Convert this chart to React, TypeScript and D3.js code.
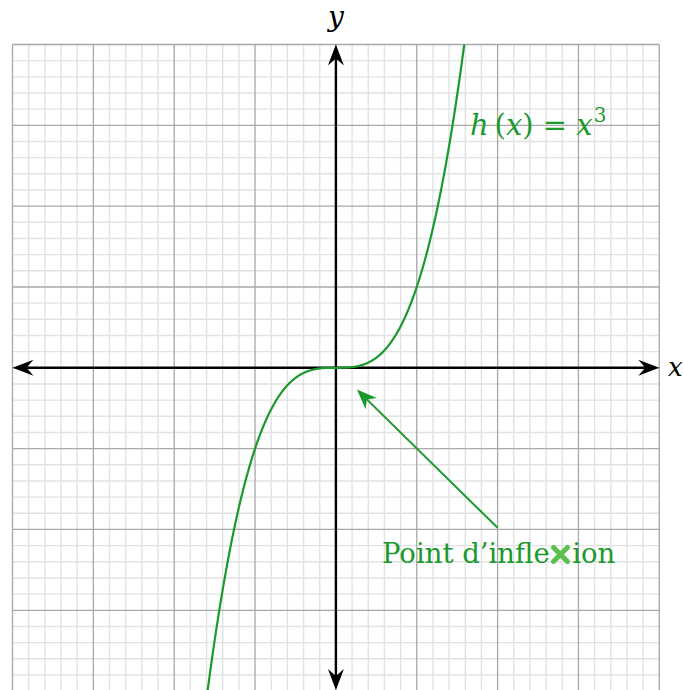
import React, { useEffect, useRef } from "react";
import * as d3 from "d3";

const xDomain = [-4, 4];
const yDomain = [-4, 4];
const majorTicks = [-4, -3, -2, -1, 0, 1, 2, 3, 4];
const minorStep = 0.2;
const curveLabel = ["h", "\u2009(", "x", ")", " = ", "x", "3"];
const annotationText = ["Point d’infle", "x", "ion"];
const annotationTail = [2.0, -1.98];
const annotationTip = [0.26, -0.27];
const annotationTextPos = [0.57, -2.42];
const labelPos = [1.66, 2.88];

const W = 683;
const H = 690;
const GREEN = "#1a9a2c";
const LIGHT_GREEN = "#5cc04c";

export default function App() {
  const ref = useRef<SVGSVGElement>(null);
  useEffect(() => {
    const svg = d3.select(ref.current);
    svg.selectAll("*").remove();
    const x = d3.scaleLinear().domain(xDomain).range([12.5, 659.3]);
    const y = d3.scaleLinear().domain(yDomain).range([691.1, 44.5]);

    const defs = svg.append("defs");
    defs.append("clipPath").attr("id", "plotclip").append("rect")
      .attr("x", x(-4)).attr("y", y(4)).attr("width", x(4) - x(-4)).attr("height", y(-4) - y(4));

    const g = svg.append("g");
    const minor = d3.range(-4, 4.0001, minorStep).filter(v => Math.abs(Math.round(v) - v) > 1e-6);
    g.selectAll(".mx").data(minor).enter().append("line")
      .attr("x1", d => x(d)).attr("x2", d => x(d)).attr("y1", y(4)).attr("y2", y(-4))
      .attr("stroke", "#e2e2e2").attr("stroke-width", 1.4);
    g.selectAll(".my").data(minor).enter().append("line")
      .attr("y1", d => y(d)).attr("y2", d => y(d)).attr("x1", x(-4)).attr("x2", x(4))
      .attr("stroke", "#e2e2e2").attr("stroke-width", 1.4);
    g.selectAll(".Mx").data(majorTicks).enter().append("line")
      .attr("x1", d => x(d)).attr("x2", d => x(d)).attr("y1", y(4)).attr("y2", y(-4))
      .attr("stroke", "#a8a8a8").attr("stroke-width", 1.3);
    g.selectAll(".My").data(majorTicks).enter().append("line")
      .attr("y1", d => y(d)).attr("y2", d => y(d)).attr("x1", x(-4)).attr("x2", x(4))
      .attr("stroke", "#a8a8a8").attr("stroke-width", 1.3);

    const arrowHead = (tx: number, ty: number, angle: number, len: number, half: number, inset: number, color: string) => {
      const p = d3.path();
      p.moveTo(0, 0);
      p.lineTo(-len, -half);
      p.lineTo(-len + inset, 0);
      p.lineTo(-len, half);
      p.closePath();
      svg.append("path").attr("d", p.toString())
        .attr("fill", color)
        .attr("transform", `translate(${tx},${ty}) rotate(${angle})`);
    };

    svg.append("line").attr("x1", x(-4) + 8).attr("x2", x(4) - 8).attr("y1", y(0)).attr("y2", y(0))
      .attr("stroke", "#000").attr("stroke-width", 2.4);
    svg.append("line").attr("x1", x(0)).attr("x2", x(0)).attr("y1", y(4) + 8).attr("y2", 690 - 8)
      .attr("stroke", "#000").attr("stroke-width", 2.4);
    arrowHead(x(4), y(0), 0, 21, 8, 7, "#000");
    arrowHead(x(-4), y(0), 180, 21, 8, 7, "#000");
    arrowHead(x(0), y(4), -90, 21, 8, 7, "#000");
    arrowHead(x(0), 690, 90, 21, 8, 7, "#000");

    const xs = d3.range(-1.6, 1.6001, 0.01);
    const line = d3.line<number>().x(d => x(d)).y(d => y(d * d * d));
    svg.append("path").datum(xs).attr("d", line)
      .attr("fill", "none").attr("stroke", GREEN).attr("stroke-width", 2.2)
      .attr("clip-path", "url(#plotclip)");

    svg.append("text").attr("x", x(0)).attr("y", 26).attr("text-anchor", "middle")
      .attr("font-family", "DejaVu Serif").attr("font-style", "italic").attr("font-size", 28)
      .attr("fill", "#000").text("y");
    svg.append("text").attr("x", 668).attr("y", y(0) + 8)
      .attr("font-family", "DejaVu Serif").attr("font-style", "italic").attr("font-size", 26)
      .attr("fill", "#000").text("x");

    const lt = svg.append("text").attr("x", x(labelPos[0])).attr("y", y(labelPos[1]))
      .attr("font-family", "DejaVu Serif").attr("font-size", 29).attr("fill", GREEN);
    curveLabel.forEach((s) => {
      const ts = lt.append("tspan").text(s);
      if (s === "h" || s === "x") ts.attr("font-style", "italic");
      if (s === "3") ts.attr("font-size", 20).attr("dy", -13).attr("dx", 1);
    });

    const ax1 = x(annotationTail[0]), ay1 = y(annotationTail[1]);
    const ax2 = x(annotationTip[0]), ay2 = y(annotationTip[1]);
    const ang = Math.atan2(ay2 - ay1, ax2 - ax1);
    svg.append("line").attr("x1", ax1).attr("y1", ay1)
      .attr("x2", ax2 - Math.cos(ang) * 10).attr("y2", ay2 - Math.sin(ang) * 10)
      .attr("stroke", GREEN).attr("stroke-width", 2);
    arrowHead(ax2, ay2, (ang * 180) / Math.PI, 20, 8, 6, GREEN);

    const at = svg.append("text").attr("x", x(annotationTextPos[0])).attr("y", y(annotationTextPos[1]))
      .attr("font-family", "DejaVu Serif").attr("font-size", 27.5).attr("fill", GREEN);
    annotationText.forEach((s, i) => {
      const ts = at.append("tspan").text(s);
      if (i === 1) ts.attr("fill", "transparent").attr("dx", 3);
      if (i === 2) ts.attr("dx", 4);
    });
    const node = at.node() as SVGTextElement;
    const idx = annotationText[0].length;
    const ext = node.getExtentOfChar(idx);
    const cx = ext.x + ext.width / 2;
    const cy = y(annotationTextPos[1]) - 9;
    const s = 7;
    svg.append("path")
      .attr("d", `M${cx - s},${cy - s}L${cx + s},${cy + s}M${cx + s},${cy - s}L${cx - s},${cy + s}`)
      .attr("stroke", LIGHT_GREEN).attr("stroke-width", 5).attr("stroke-linecap", "round");
  }, []);

  return (
    <svg ref={ref} width={W} height={H} style={{ position: "absolute", left: 0, top: 0, display: "block" }} />
  );
}
